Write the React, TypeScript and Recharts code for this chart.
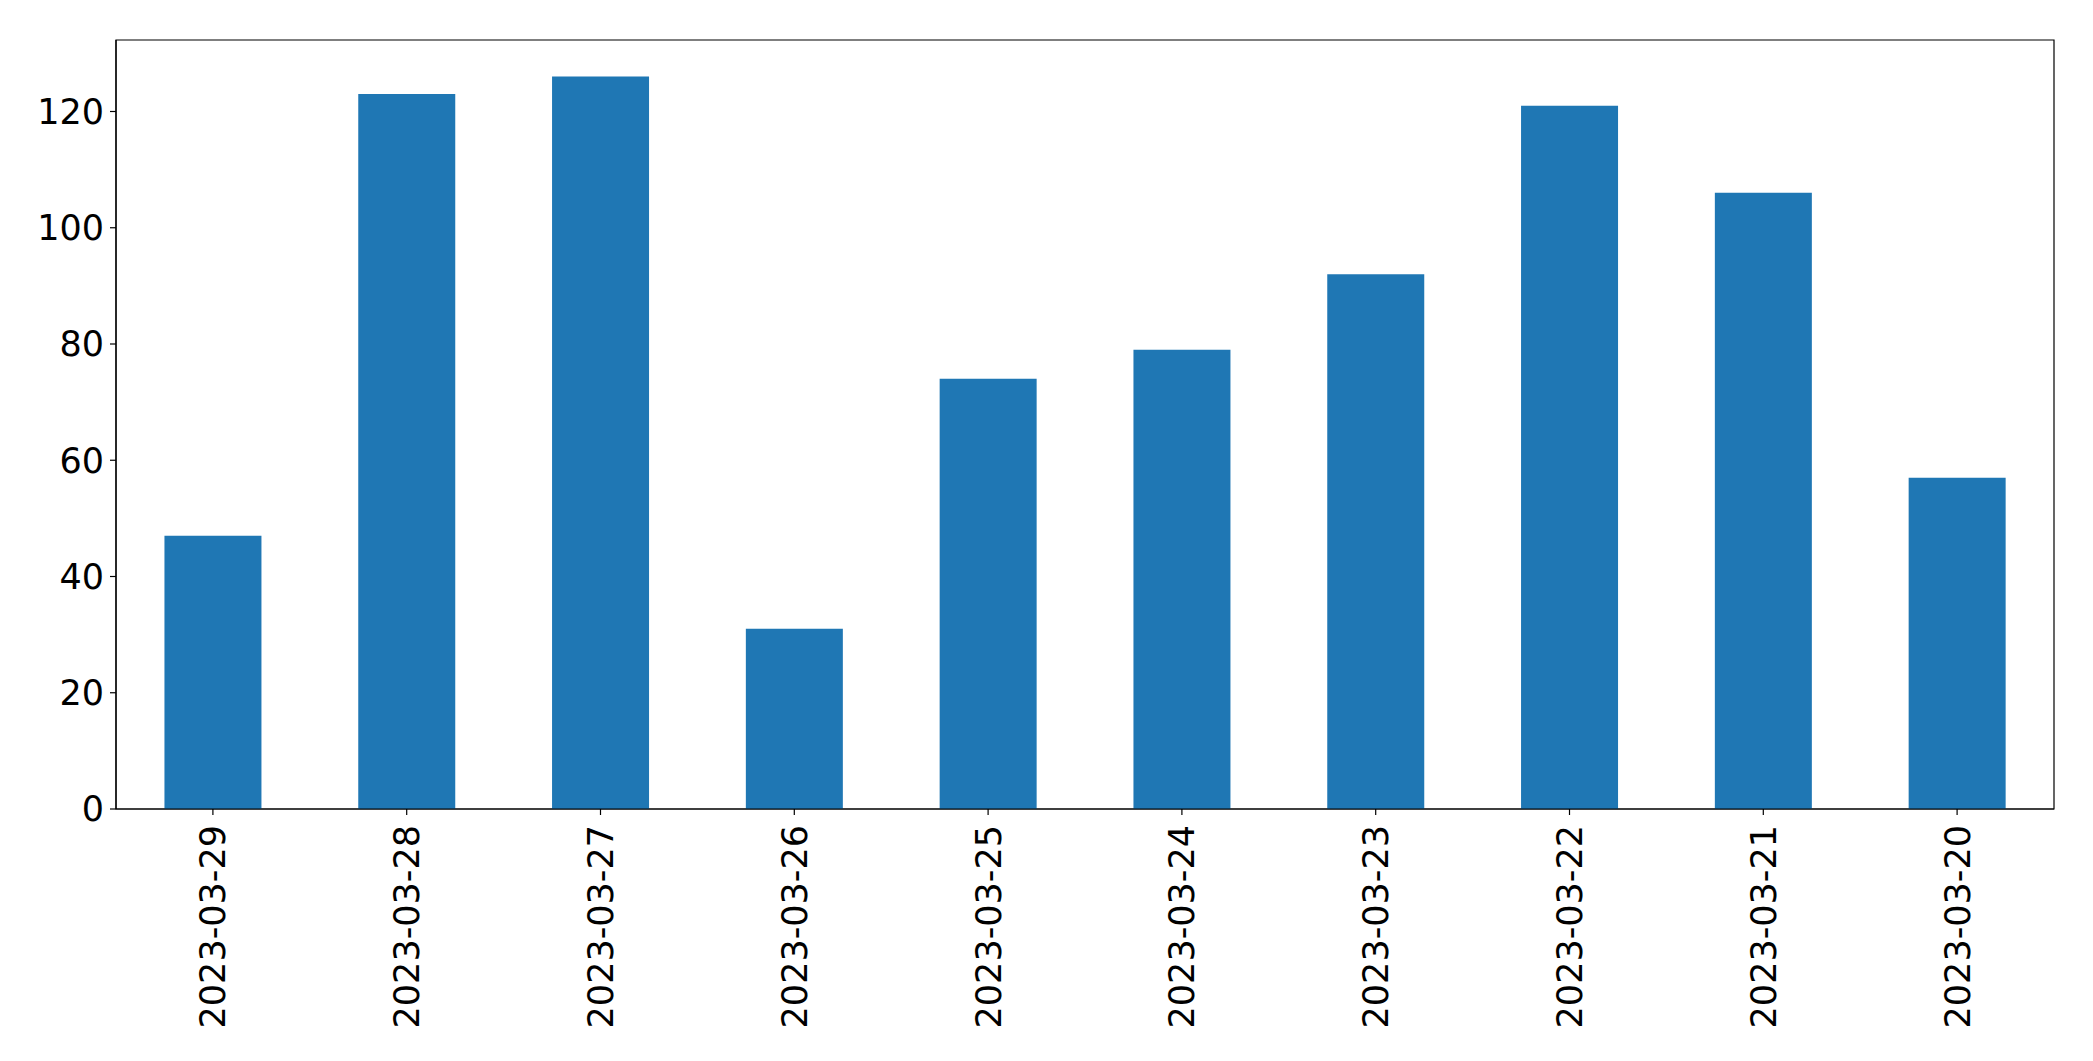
import React from 'react';
import { BarChart, Bar, XAxis, YAxis, ReferenceArea } from 'recharts';

const dates = ['2023-03-29', '2023-03-28', '2023-03-27', '2023-03-26', '2023-03-25', '2023-03-24', '2023-03-23', '2023-03-22', '2023-03-21', '2023-03-20'];
const counts = [47, 123, 126, 31, 74, 79, 92, 121, 106, 57];
const yTicks = [0, 20, 40, 60, 80, 100, 120];
const yMax = 132.3;

const data = dates.map((d, i) => ({ date: d, count: counts[i] }));

const FONT = '"DejaVu Sans", sans-serif';

const XTick = (props: any) => {
  const { x, y, payload } = props;
  return (
    <text
      x={x}
      y={y}
      transform={`rotate(-90, ${x}, ${y})`}
      textAnchor="end"
      dy="0.36em"
      fontFamily={FONT}
      fontSize={35}
      fill="#000"
    >
      {payload.value}
    </text>
  );
};

export default function App() {
  return (
    <div style={{ position: 'absolute', left: 0, top: 0, width: 2093, height: 1061, background: '#fff' }}>
      <BarChart
        width={2093}
        height={1061}
        data={data}
        margin={{ top: 40, right: 39, bottom: 0, left: 0 }}
        barCategoryGap="25%"
      >
        <XAxis
          dataKey="date"
          height={252}
          interval={0}
          tick={<XTick />}
          tickSize={6}
          tickMargin={10}
          axisLine={{ stroke: '#000', strokeWidth: 1.2 }}
          tickLine={{ stroke: '#000', strokeWidth: 1.2 }}
        />
        <YAxis
          width={116}
          domain={[0, yMax]}
          ticks={yTicks}
          allowDataOverflow
          tickSize={6}
          tickMargin={6}
          tick={{ fontFamily: FONT, fontSize: 35, fill: '#000' }}
          axisLine={{ stroke: '#000', strokeWidth: 1.2 }}
          tickLine={{ stroke: '#000', strokeWidth: 1.2 }}
        />
        <Bar dataKey="count" fill="#1f77b4" isAnimationActive={false} />
        <ReferenceArea
          y1={0}
          y2={yMax}
          fill="none"
          fillOpacity={0}
          stroke="#000"
          strokeWidth={1.2}
          ifOverflow="visible"
        />
      </BarChart>
    </div>
  );
}
